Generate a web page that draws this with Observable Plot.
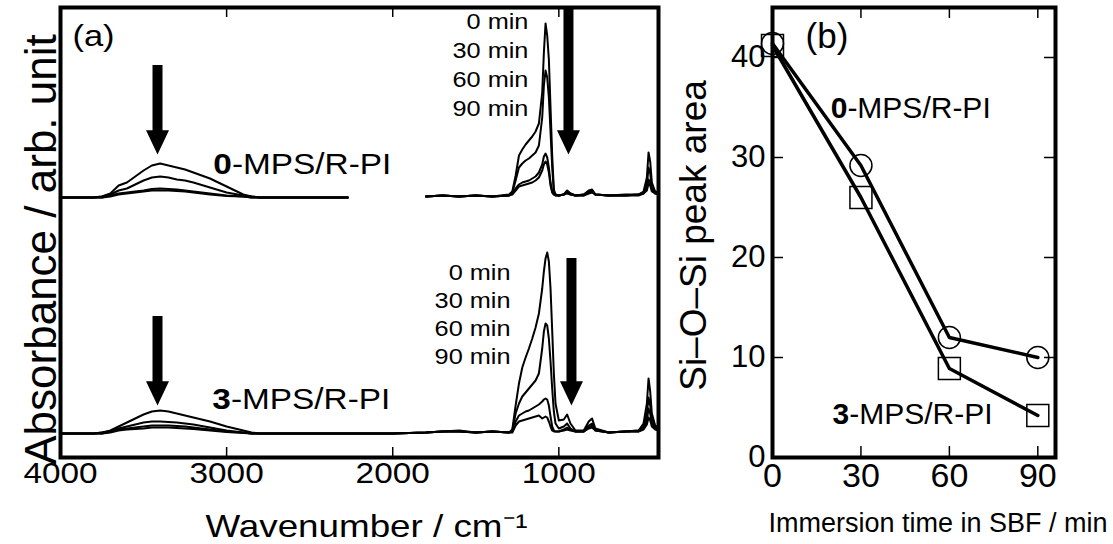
<!DOCTYPE html>
<html><head><meta charset="utf-8">
<script src="https://cdn.jsdelivr.net/npm/d3@7"></script>
<script src="https://cdn.jsdelivr.net/npm/@observablehq/plot@0.6"></script>
<style>
body{margin:0;background:#fff}
#wrap{position:relative;width:1113px;height:544px;overflow:hidden;background:#fff}
#wrap svg{position:absolute;top:0}
</style>
</head><body><div id="wrap"></div>
<script>
const FONT = '"Liberation Sans", Arial, Helvetica, sans-serif';

// ---------- Panel (a): FTIR spectra ----------
const wn = [4000,3800,3750,3700,3650,3600,3550,3500,3450,3400,
 3350,3300,3250,3200,3100,3000,2900,2850,2800,2270,
 2000,1800,1700,1600,1500,1400,1300,1280,1260,1240,
 1220,1200,1180,1160,1140,1120,1100,1090,1080,1070,
 1060,1050,1040,1030,1020,1000,970,950,930,900,
 850,820,800,780,700,600,520,490,470,460,
 450,440,420,400];

// 0-MPS/R-PI (upper set)
const top0 = [0,0,0.01,0.04,0.12,0.15,0.21,0.27,0.32,0.34,
 0.32,0.30,0.28,0.25,0.19,0.11,0.03,0.01,0,0,
 null,0.01,0.02,0.01,0.02,0.01,0.03,0.06,0.22,0.42,
 0.48,0.53,0.57,0.61,0.66,0.74,1.05,1.45,1.74,1.62,
 1.38,0.90,0.42,0.08,0.03,0.02,0.03,0.07,0.04,0.02,
 0.03,0.07,0.08,0.03,0.02,0.03,0.03,0.06,0.20,0.45,
 0.36,0.15,0.06,0.05];
const top30 = [0,0,0.01,0.03,0.07,0.09,0.13,0.17,0.20,0.21,
 0.20,0.18,0.17,0.15,0.10,0.05,0.02,0.01,0,0,
 null,0.01,0.02,0.01,0.02,0.01,0.02,0.05,0.17,0.30,
 0.34,0.37,0.39,0.42,0.45,0.52,0.80,1.12,1.27,1.20,
 1.00,0.66,0.30,0.06,0.03,0.02,0.03,0.06,0.04,0.02,
 0.03,0.06,0.07,0.03,0.02,0.02,0.03,0.05,0.12,0.30,
 0.24,0.10,0.05,0.04];
const top60 = [0,0,0,0.02,0.04,0.05,0.06,0.07,0.085,0.09,
 0.085,0.08,0.07,0.06,0.04,0.02,0.01,0,0,0,
 null,0.01,0.02,0.01,0.02,0.01,0.02,0.04,0.09,0.13,
 0.15,0.16,0.17,0.19,0.21,0.25,0.33,0.41,0.44,0.40,
 0.30,0.15,0.06,0.03,0.02,0.02,0.03,0.05,0.03,0.02,
 0.02,0.05,0.06,0.03,0.02,0.02,0.03,0.04,0.09,0.18,
 0.15,0.08,0.04,0.04];
const top90 = [0,0,0,0.01,0.03,0.04,0.05,0.06,0.07,0.07,
 0.07,0.065,0.06,0.05,0.03,0.015,0.01,0,0,0,
 null,0.01,0.02,0.01,0.02,0.01,0.02,0.03,0.07,0.11,
 0.12,0.13,0.14,0.15,0.17,0.20,0.27,0.33,0.36,0.33,
 0.25,0.12,0.05,0.03,0.02,0.02,0.03,0.04,0.03,0.02,
 0.02,0.04,0.05,0.03,0.02,0.02,0.02,0.04,0.07,0.14,
 0.12,0.06,0.04,0.03];
// 3-MPS/R-PI (lower set)
const bot0 = [0,0,0.01,0.03,0.07,0.11,0.15,0.19,0.22,0.23,
 0.22,0.20,0.18,0.16,0.12,0.07,0.03,0.01,0,0,
 0,0.01,0.02,0.03,0.01,0.02,0.01,0.04,0.28,0.50,
 0.66,0.76,0.85,0.95,1.06,1.20,1.45,1.62,1.75,1.81,
 1.72,1.45,1.03,0.60,0.30,0.13,0.14,0.19,0.10,0.03,
 0.03,0.12,0.15,0.05,0.01,0.02,0.03,0.10,0.30,0.55,
 0.42,0.20,0.08,0.06];
const bot30 = [0,0,0.01,0.02,0.05,0.07,0.09,0.11,0.12,0.12,
 0.115,0.11,0.10,0.09,0.06,0.03,0.01,0,0,0,
 0,0.01,0.02,0.02,0.01,0.02,0.01,0.03,0.20,0.30,
 0.37,0.41,0.45,0.49,0.53,0.60,0.85,1.02,1.10,1.08,
 0.95,0.72,0.45,0.22,0.10,0.05,0.07,0.10,0.05,0.02,
 0.02,0.08,0.10,0.04,0.01,0.02,0.03,0.07,0.20,0.36,
 0.28,0.14,0.06,0.05];
const bot60 = [0,0,0,0.02,0.04,0.05,0.06,0.07,0.08,0.08,
 0.08,0.075,0.07,0.06,0.04,0.02,0.01,0,0,0,
 0,0.01,0.02,0.02,0.01,0.02,0.01,0.02,0.12,0.18,
 0.20,0.22,0.23,0.25,0.27,0.29,0.32,0.34,0.35,0.34,
 0.28,0.17,0.07,0.03,0.02,0.02,0.04,0.06,0.04,0.02,
 0.02,0.06,0.08,0.03,0.01,0.02,0.02,0.05,0.13,0.25,
 0.20,0.10,0.05,0.04];
const bot90 = [0,0,0,0.01,0.03,0.04,0.045,0.05,0.06,0.06,
 0.06,0.055,0.05,0.045,0.03,0.015,0.005,0,0,0,
 0,0.01,0.02,0.02,0.01,0.02,0.01,0.01,0.08,0.12,
 0.13,0.14,0.15,0.16,0.17,0.18,0.15,0.16,0.17,0.16,
 0.12,0.07,0.03,0.02,0.02,0.02,0.03,0.04,0.03,0.02,
 0.02,0.05,0.06,0.03,0.01,0.02,0.02,0.04,0.09,0.16,
 0.13,0.07,0.04,0.03];

const offsetTop = 2.6, offsetBot = 0.24;
const spectra = [
  {id:"0-0", off:offsetTop, v:top0}, {id:"0-30", off:offsetTop, v:top30},
  {id:"0-60", off:offsetTop, v:top60}, {id:"0-90", off:offsetTop, v:top90},
  {id:"3-0", off:offsetBot, v:bot0}, {id:"3-30", off:offsetBot, v:bot30},
  {id:"3-60", off:offsetBot, v:bot60}, {id:"3-90", off:offsetBot, v:bot90}
];
const xTicksA = [3000, 2000, 1000];
const xLabelsA = [4000, 3000, 2000, 1000];

// annotations (a), in data units
const arrowW = [3416, 3416, 942, 924];
const arrowTop = [3.92, 1.41, 4.5, 1.99];
const arrowTip = [3.03, 0.52, 3.03, 0.52];
const minText = ["0 min","30 min","60 min","90 min"];
const minTopY = [4.29, 4.00, 3.71, 3.42];
const minBotY = [1.78, 1.50, 1.22, 0.94];
const sampleNum = ["0", "3"];
const sampleRest = ["-MPS/R-PI", "-MPS/R-PI"];

// ---------- Panel (b): peak area ----------
const times = [0, 30, 60, 90];
const area0 = [41.4, 29.2, 12.0, 10.0];
const area3 = [41.2, 26.0, 8.9, 4.2];
const xTicksB = [30, 60, 90];
const yTicksB = [10, 20, 30, 40];

// ---------- build ----------
const rowsA = [];
for (const s of spectra) wn.forEach((w, i) => rowsA.push({w, a: s.v[i] == null ? NaN : s.v[i] + s.off, id: s.id}));
const arrows = arrowW.map((w, i) => ({w, top: arrowTop[i], tip: arrowTip[i]}));
const minRows = [
  ...minText.map((t, i) => ({t, w: 1183, a: minTopY[i]})),
  ...minText.map((t, i) => ({t, w: 1291, a: minBotY[i]}))
];
const sampRowsA = [{n: sampleNum[0], r: sampleRest[0], w: 2968, a: 2.84}, {n: sampleNum[1], r: sampleRest[1], w: 2974, a: 0.49}];

const headDown = {draw(ctx, size) {const r = Math.sqrt(size / Math.PI); ctx.moveTo(0, 0); ctx.lineTo(-r, -2.1 * r); ctx.lineTo(r, -2.1 * r); ctx.closePath();}};

const svgA = Plot.plot({
  width: 680, height: 544, marginLeft: 60, marginRight: 22, marginTop: 7, marginBottom: 87,
  style: {fontFamily: FONT, color: "black", background: "transparent", overflow: "visible"},
  x: {domain: [4000, 400]}, y: {domain: [0, 4.5], axis: null},
  marks: [
    Plot.line(rowsA, {x: "w", y: "a", z: "id", stroke: "black", strokeWidth: 2}),
    Plot.ruleX(arrows, {x: "w", y1: "top", y2: d => d.tip + 0.2, stroke: "black", strokeWidth: 10}),
    Plot.dot(arrows, {x: "w", y: "tip", symbol: headDown, r: 11.5, fill: "black", stroke: "none"}),
    Plot.tickX(xTicksA, {x: d => d, insetTop: 440, strokeWidth: 1.5}),
    Plot.tickX(xTicksA, {x: d => d, insetBottom: 440, strokeWidth: 1.5}),
    Plot.frame({strokeWidth: 4}),
    Plot.axisX({ticks: xLabelsA, tickSize: 0, tickPadding: 5, fontSize: 29, fontFamily: FONT, tickFormat: "d", label: null}),
    Plot.text(["(a)"], {x: 3928, y: 4.12, textAnchor: "start", lineAnchor: "bottom", fontSize: 30, fontFamily: FONT}),
    Plot.text(sampRowsA, {x: "w", y: "a", text: "n", textAnchor: "end", lineAnchor: "bottom", fontWeight: "bold", fontSize: 29, fontFamily: FONT}),
    Plot.text(sampRowsA, {x: "w", y: "a", text: "r", textAnchor: "start", lineAnchor: "bottom", fontSize: 29, fontFamily: FONT}),
    Plot.text(minRows, {x: "w", y: "a", text: "t", textAnchor: "end", lineAnchor: "bottom", fontSize: 22, fontFamily: FONT}),
    Plot.text(["Wavenumber / cm\u207B\u00B9"], {frameAnchor: "bottom", textAnchor: "middle", dx: 7, dy: 79, lineAnchor: "bottom", fontSize: 32, fontFamily: FONT}),
    Plot.text(["Absorbance / arb. unit"], {frameAnchor: "left", textAnchor: "middle", rotate: -90, dx: -5, dy: 17, lineAnchor: "bottom", fontSize: 44, fontFamily: FONT})
  ]
});

const rowsB = [
  ...times.map((t, i) => ({t, v: area0[i], s: "0"})),
  ...times.map((t, i) => ({t, v: area3[i], s: "3"}))
];
const labB = [{n: "0", r: "-MPS/R-PI", t: 25.4, v: 34.0}, {n: "3", r: "-MPS/R-PI", t: 26.0, v: 3.4}];
const svgB = Plot.plot({
  width: 453, height: 544, marginLeft: 112, marginRight: 58, marginTop: 7, marginBottom: 87,
  style: {fontFamily: FONT, color: "black", background: "transparent", overflow: "visible"},
  x: {domain: [0, 96]}, y: {domain: [0, 45]},
  marks: [
    Plot.line(rowsB, {x: "t", y: "v", z: "s", stroke: "black", strokeWidth: 3.5}),
    Plot.dot(rowsB.filter(d => d.s === "0"), {x: "t", y: "v", symbol: "circle", r: 11, stroke: "black", strokeWidth: 1.5, fill: "none"}),
    Plot.dot(rowsB.filter(d => d.s === "3"), {x: "t", y: "v", symbol: "square", r: 12.4, stroke: "black", strokeWidth: 1.5, fill: "none"}),
    Plot.tickX(xTicksB, {x: d => d, insetTop: 439, strokeWidth: 1.5}),
    Plot.tickX(xTicksB, {x: d => d, insetBottom: 439, strokeWidth: 1.5}),
    Plot.tickY(yTicksB, {y: d => d, insetRight: 272, strokeWidth: 1.5}),
    Plot.tickY(yTicksB, {y: d => d, insetLeft: 272, strokeWidth: 1.5}),
    Plot.frame({strokeWidth: 4}),
    Plot.axisX({ticks: [0, 30, 60, 90], tickSize: 0, tickPadding: 5, fontSize: 34, fontFamily: FONT, tickFormat: "d", label: null}),
    Plot.axisY({ticks: [0, 10, 20, 30, 40], tickSize: 0, tickPadding: 7, fontSize: 31, fontFamily: FONT, tickFormat: "d", label: null}),
    Plot.text(["(b)"], {x: 11.2, y: 41.0, textAnchor: "start", lineAnchor: "bottom", fontSize: 35, fontFamily: FONT}),
    Plot.text(labB, {x: "t", y: "v", text: "n", textAnchor: "end", lineAnchor: "bottom", fontWeight: "bold", fontSize: 30, fontFamily: FONT}),
    Plot.text(labB, {x: "t", y: "v", text: "r", textAnchor: "start", lineAnchor: "bottom", fontSize: 30, fontFamily: FONT}),
    Plot.text(["Immersion time in SBF / min"], {frameAnchor: "bottom", textAnchor: "middle", dx: 24, dy: 74, lineAnchor: "bottom", fontSize: 27, fontFamily: FONT}),
    Plot.text(["Si\u2013O\u2013Si peak area"], {frameAnchor: "left", textAnchor: "middle", rotate: -90, dx: -67, dy: 3, lineAnchor: "bottom", fontSize: 37, fontFamily: FONT})
  ]
});

// horizontal stretch of panel (a) lettering (the original figure is widened)
function stretchText(svg, sx) {
  svg.querySelectorAll("text").forEach(t => {
    const tr = t.getAttribute("transform") || "";
    if (tr.includes("rotate")) return;
    if (t.getAttribute("x") != null) return;
    t.setAttribute("transform", `${tr} scale(${sx},1)`);
  });
}
stretchText(svgA, 1.15);

svgA.style.left = "0px";
svgB.style.left = "660px";
const wrap = document.getElementById("wrap");
wrap.appendChild(svgA);
wrap.appendChild(svgB);
</script>
</body></html>
